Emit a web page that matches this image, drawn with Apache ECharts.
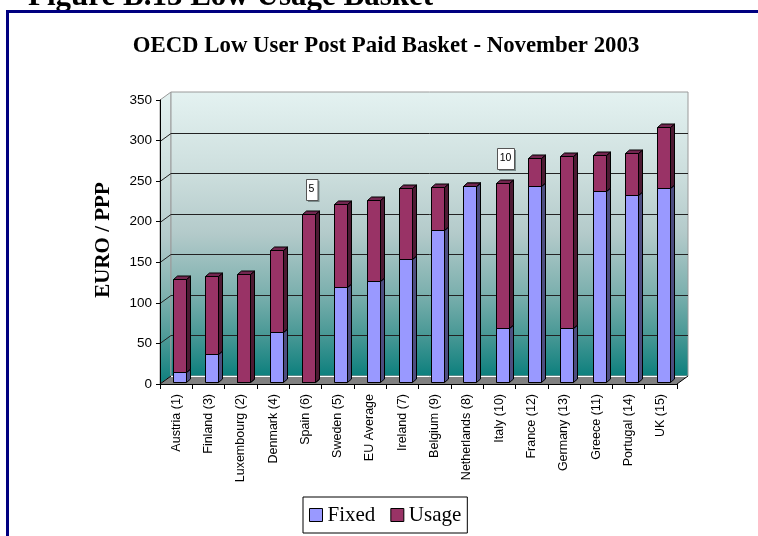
<!DOCTYPE html>
<html>
<head>
<meta charset="utf-8">
<script src="https://cdn.jsdelivr.net/npm/echarts@6/dist/echarts.min.js"></script>
<style>
  html, body { margin: 0; padding: 0; background: #ffffff; }
  #chart { width: 758px; height: 536px; }
</style>
</head>
<body>
<div id="chart"></div>
<script>
// Monthly basket cost per country, split into fixed and usage charges (EURO / PPP)
const categories = ['Austria (1)', 'Finland (3)', 'Luxembourg (2)', 'Denmark (4)', 'Spain (6)', 'Sweden (5)',
  'EU Average', 'Ireland (7)', 'Belgium (9)', 'Netherlands (8)', 'Italy (10)', 'France (12)',
  'Germany (13)', 'Greece (11)', 'Portugal (14)', 'UK (15)'];
const fixedValues = [12, 34, 0, 62, 0, 117, 125, 152, 187, 241, 67, 241, 67, 236, 231, 239];
const usageValues = [115, 97, 133, 101, 207, 102, 99, 87, 53, 0, 178, 35, 211, 44, 51, 75];
// small callout boxes shown above some bars
const rankNotes = ['', '', '', '', '5', '', '', '', '', '', '10', '', '', '', '', ''];
const yMin = 0, yMax = 350, yStep = 50;

const SERIF = '"Liberation Serif", "Times New Roman", serif';
const SANS = '"Liberation Sans", Arial, sans-serif';

// pseudo-3D geometry
const WALL_DX = 11, WALL_DY = -8;     // depth of the back wall
const BAR_DX = 4, BAR_DY = -3.5;      // depth of each column
const BAR_SHIFT_X = 3, BAR_SHIFT_Y = -2;
const BAR_W = 13;

function wallFill() {
  return new echarts.graphic.LinearGradient(0, 0, 0, 1, [
    { offset: 0, color: '#e4f2f1' },
    { offset: 0.3, color: '#cbdddc' },
    { offset: 0.5, color: '#b3caca' },
    { offset: 0.7, color: '#7eb1af' },
    { offset: 0.85, color: '#4a9996' },
    { offset: 1, color: '#0c7f7d' }
  ]);
}

function renderFrame(params, api) {
  const cs = params.coordSys;
  const x0 = cs.x, x1 = cs.x + cs.width, yT = cs.y, yB = cs.y + cs.height;
  const kids = [];
  // left side wall
  kids.push({ type: 'polygon', shape: { points: [[x0, yB], [x0, yT], [x0 + WALL_DX, yT + WALL_DY], [x0 + WALL_DX, yB + WALL_DY]] },
    style: { fill: wallFill(), stroke: '#9a9a9a', lineWidth: 1 } });
  // back wall
  kids.push({ type: 'rect', shape: { x: x0 + WALL_DX, y: yT + WALL_DY, width: cs.width, height: cs.height },
    style: { fill: wallFill(), stroke: '#9a9a9a', lineWidth: 1 } });
  // gridlines across side wall and back wall
  for (let v = yMin + yStep; v < yMax; v += yStep) {
    const y = Math.round(api.coord([0, v])[1]) + 0.5;
    kids.push({ type: 'polyline', shape: { points: [[x0, y], [x0 + WALL_DX, y + WALL_DY], [x1 + WALL_DX, y + WALL_DY]] },
      style: { stroke: '#222222', lineWidth: 1, fill: null } });
  }
  // floor
  kids.push({ type: 'polygon', shape: { points: [[x0, yB], [x1, yB], [x1 + WALL_DX, yB + WALL_DY], [x0 + WALL_DX, yB + WALL_DY]] },
    style: { fill: '#808080' } });
  kids.push({ type: 'line', shape: { x1: x0 + WALL_DX, y1: yB + WALL_DY + 0.5, x2: x1 + WALL_DX, y2: yB + WALL_DY + 0.5 },
    style: { stroke: '#ffffff', lineWidth: 1 } });
  kids.push({ type: 'line', shape: { x1: x0, y1: yB, x2: x0 + WALL_DX, y2: yB + WALL_DY }, style: { stroke: '#000', lineWidth: 1 } });
  kids.push({ type: 'line', shape: { x1: x1, y1: yB, x2: x1 + WALL_DX, y2: yB + WALL_DY }, style: { stroke: '#000', lineWidth: 1 } });
  return { type: 'group', children: kids };
}

function makeColumnRenderer(front, side, top, withNotes) {
  return function (params, api) {
    const idx = api.value(0);
    const lo = api.coord([idx, api.value(1)]);
    const hi = api.coord([idx, api.value(2)]);
    const x = Math.round(lo[0] - BAR_W / 2 + BAR_SHIFT_X) + 0.5;
    const yb = Math.round(lo[1] + BAR_SHIFT_Y) + 0.5;
    const yt = Math.round(hi[1] + BAR_SHIFT_Y) + 0.5;
    const stroke = { stroke: '#000000', lineWidth: 1 };
    const kids = [
      { type: 'polygon', shape: { points: [[x + BAR_W, yt], [x + BAR_W + BAR_DX, yt + BAR_DY], [x + BAR_W + BAR_DX, yb + BAR_DY], [x + BAR_W, yb]] },
        style: Object.assign({ fill: side }, stroke) },
      { type: 'rect', shape: { x: x, y: yt, width: BAR_W, height: yb - yt },
        style: Object.assign({ fill: front }, stroke) },
      { type: 'polygon', shape: { points: [[x, yt], [x + BAR_DX, yt + BAR_DY], [x + BAR_W + BAR_DX, yt + BAR_DY], [x + BAR_W, yt]] },
        style: Object.assign({ fill: top }, stroke) }
    ];
    const note = withNotes ? rankNotes[idx] : '';
    if (note) {
      const w = 6 + 5.5 * note.length, h = 21;
      const cx = x + BAR_W / 2 + 2.5, cy = yt - 25;
      const bx = Math.round(cx - w / 2) + 0.5, by = Math.round(cy - h / 2) + 0.5;
      kids.push({ type: 'rect', shape: { x: bx + 1.5, y: by + 1.5, width: w, height: h }, style: { fill: '#7a8c8c' } });
      kids.push({ type: 'rect', shape: { x: bx, y: by, width: w, height: h }, style: { fill: '#ffffff', stroke: '#555555', lineWidth: 1 } });
      kids.push({ type: 'text', x: cx, y: cy, style: { text: note, font: '10.5px ' + SANS, fill: '#000', align: 'center', verticalAlign: 'middle' } });
    }
    return { type: 'group', children: kids };
  };
}

const fixedData = categories.map((c, i) => [i, 0, fixedValues[i]]);
const usageData = categories.map((c, i) => [i, fixedValues[i], fixedValues[i] + usageValues[i]]);

const chart = echarts.init(document.getElementById('chart'), null, { renderer: 'canvas' });
chart.setOption({
  animation: false,
  backgroundColor: '#ffffff',
  grid: { left: 160, right: 81, top: 100, bottom: 152, containLabel: false },
  xAxis: {
    type: 'category', data: categories, z: 5,
    axisLine: { lineStyle: { color: '#000', width: 1 } },
    axisTick: { show: true, alignWithLabel: false, length: 5, lineStyle: { color: '#000' } },
    axisLabel: { rotate: 90, margin: 10, color: '#000', fontFamily: SANS, fontSize: 12.5, interval: 0 },
    splitLine: { show: false }
  },
  yAxis: {
    type: 'value', min: yMin, max: yMax, interval: yStep, z: 5,
    axisLine: { show: true, lineStyle: { color: '#000', width: 1 } },
    axisTick: { show: true, length: 4, lineStyle: { color: '#000' } },
    axisLabel: { margin: 8, color: '#000', fontFamily: SANS, fontSize: 13.5 },
    splitLine: { show: false }
  },
  legend: {
    data: ['Fixed', 'Usage'],
    left: 303, top: 497,
    orient: 'horizontal',
    icon: 'rect', itemWidth: 13, itemHeight: 13, itemGap: 15,
    padding: [7, 6, 7, 6],
    borderColor: '#000', borderWidth: 1,
    itemStyle: { borderColor: '#000', borderWidth: 1 },
    textStyle: { fontFamily: SERIF, fontSize: 21, color: '#000', lineHeight: 22 }
  },
  graphic: [
    { type: 'text', x: 28, y: 12.5, style: { text: 'Figure B.13 Low Usage Basket', font: 'bold 31px ' + SERIF, fill: '#000', align: 'left', verticalAlign: 'bottom' } },
    { type: 'rect', shape: { x: 7.5, y: 11.5, width: 800, height: 600 }, style: { fill: null, stroke: '#000080', lineWidth: 3 } },
    { type: 'text', x: 386, y: 46, style: { text: 'OECD Low User Post Paid Basket - November 2003', font: 'bold 22.8px ' + SERIF, fill: '#000', align: 'center', verticalAlign: 'middle' } },
    { type: 'text', x: 104, y: 240, rotation: Math.PI / 2, style: { text: 'EURO / PPP', font: 'bold 21px ' + SERIF, fill: '#000', align: 'center', verticalAlign: 'middle' } }
  ],
  series: [
    { type: 'custom', name: 'frame', silent: true, z: 1, data: [[0, 0]], renderItem: renderFrame, encode: { x: 0, y: 1 } },
    { type: 'custom', name: 'Fixed', z: 6, data: fixedData, itemStyle: { color: '#9999ff' },
      encode: { x: 0, y: [1, 2] }, renderItem: makeColumnRenderer('#9999ff', '#4d4d80', '#7a7acc', false) },
    { type: 'custom', name: 'Usage', z: 7, data: usageData, itemStyle: { color: '#993366' },
      encode: { x: 0, y: [1, 2] }, renderItem: makeColumnRenderer('#993366', '#4d1a33', '#732650', true) }
  ]
});
</script>
</body>
</html>
